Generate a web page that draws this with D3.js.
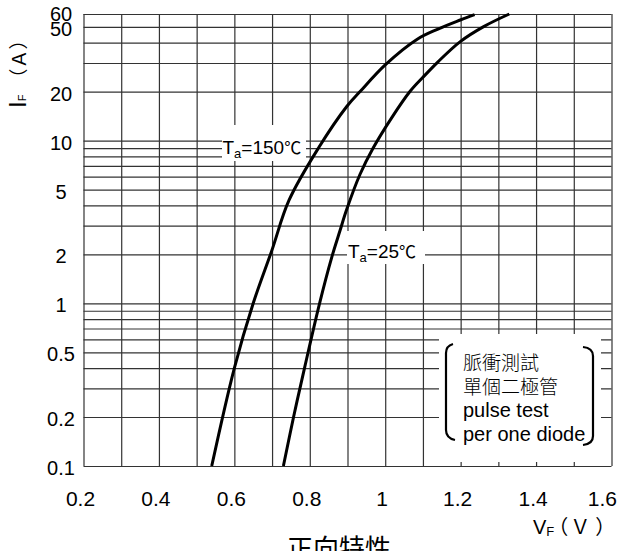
<!DOCTYPE html>
<meta charset="utf-8">
<style>
body { margin: 0; background: #fff; }
svg { display: block; background: #fff; }
.grid line { stroke: #333; stroke-width: 1.2px; }
.grid path { display: none; }
.lat { font-family: "Liberation Sans", Arial, sans-serif; fill: #000; }
.cjk { font-family: "Noto Sans CJK TC", "Noto Sans CJK SC", sans-serif; fill: #000; }
.curve { fill: none; stroke: #000; stroke-width: 3px; }
</style>
<body>
<svg width="620" height="551"></svg>
<script src="https://cdn.jsdelivr.net/npm/d3@7"></script>
<script>

// forward characteristic
var vf150 = [0.540, 0.600, 0.650, 0.699, 0.745, 0.823, 0.898, 0.934, 1.000, 1.085, 1.140, 1.199, 1.237];
var if150 = [0.1, 0.4, 1.0, 2.1, 4.3, 9.0, 16.2, 20.1, 29.2, 42.0, 48.5, 55.1, 59.5];

var vf25 = [0.730, 0.757, 0.786, 0.826, 0.858, 0.880, 0.898, 0.933, 0.968, 1.017, 1.066, 1.100, 1.140, 1.199, 1.261, 1.329];
var if25 = [0.1, 0.2, 0.4, 1.0, 1.91, 2.79, 3.78, 6.19, 9.0, 13.8, 20.1, 24.5, 30.5, 40.6, 50.2, 60];

var xTicks = [0.2, 0.4, 0.6, 0.8, 1, 1.2, 1.4, 1.6];
var xTickLabels = ["0.2", "0.4", "0.6", "0.8", "1", "1.2", "1.4", "1.6"];
var yTicks = [0.1, 0.2, 0.5, 1, 2, 5, 10, 20, 50, 60];
var yTickLabels = ["0.1", "0.2", "0.5", "1", "2", "5", "10", "20", "50", "60"];
var yGrid = [0.1, 0.2, 0.3, 0.4, 0.5, 0.6, 0.7, 0.8, 0.9, 1, 2, 3, 4, 5, 6, 7, 8, 9, 10, 20, 30, 40, 50, 60];
var xGrid = d3.range(2, 17).map(function(d) { return d / 10; });

var svg = d3.select("svg");
var plotLeft = 83.5, plotRight = 611.5, plotTop = 14, plotBottom = 466;

var x = d3.scaleLinear().domain([0.2, 1.6]).range([plotLeft, plotRight]);
var y = d3.scaleLog().domain([0.1, 60]).range([plotBottom, plotTop]);

// grid (frame included)
svg.append("g")
	.attr("class", "grid")
	.attr("transform", "translate(" + plotLeft + ",0)")
	.call(d3.axisLeft(y).tickValues(yGrid).tickSize(-(plotRight - plotLeft)).tickFormat(""));

svg.append("g")
	.attr("class", "grid")
	.attr("transform", "translate(0," + plotBottom + ")")
	.call(d3.axisBottom(x).tickValues(xGrid).tickSize(-(plotBottom - plotTop)).tickFormat(""));

// white patches behind the labels
svg.append("rect").attr("x", 222).attr("y", 125).attr("width", 84).attr("height", 36).attr("fill", "#fff");
svg.append("rect").attr("x", 347).attr("y", 231).attr("width", 78).attr("height", 33).attr("fill", "#fff");
svg.append("rect").attr("x", 439).attr("y", 334).attr("width", 162).attr("height", 128).attr("fill", "#fff");

// curves
var line = d3.line()
	.x(function(d) { return x(d[0]); })
	.y(function(d) { return y(d[1]); })
	.curve(d3.curveCatmullRom.alpha(0.5));

svg.append("path").attr("class", "curve").attr("d", line(d3.zip(vf150, if150)));
svg.append("path").attr("class", "curve").attr("d", line(d3.zip(vf25, if25)));

// tick labels
var yTop = yTicks[yTicks.length - 1];
svg.selectAll(".ylab")
	.data(yTicks)
	.enter().append("text")
	.attr("class", "lat ylab")
	.attr("x", 61)
	.attr("y", function(d) { return d === yTop ? y(d) : y(d) + 2; })
	.attr("dominant-baseline", "central")
	.attr("text-anchor", "middle")
	.style("font-size", "20px")
	.text(function(d, i) { return yTickLabels[i]; });

svg.selectAll(".xlab")
	.data(xTicks)
	.enter().append("text")
	.attr("class", "lat xlab")
	.attr("x", function(d, i) { return i == xTicks.length - 1 ? 617 : x(d) - 3; })
	.attr("y", 506)
	.attr("text-anchor", function(d, i) { return i == xTicks.length - 1 ? "end" : "middle"; })
	.style("font-size", "21px")
	.text(function(d, i) { return xTickLabels[i]; });

// curve labels
function tempLabel(px, py, value) {
	var t = svg.append("text").attr("class", "lat").attr("x", px).attr("y", py).style("font-size", "19px");
	t.append("tspan").text("T");
	t.append("tspan").attr("dy", 4).style("font-size", "13px").text("a");
	t.append("tspan").attr("dy", -4).text("=" + value);
	t.append("tspan").attr("class", "cjk").style("font-size", "17px").text("℃");
}
tempLabel(222.5, 153.5, "150");
tempLabel(348, 257.5, "25");

// axis titles
var yt = svg.append("text").attr("class", "lat").attr("transform", "translate(26,108) rotate(-90)");
yt.append("tspan").style("font-size", "24px").text("I");
yt.append("tspan").style("font-size", "11px").text("F");
yt.append("tspan").attr("class", "cjk").attr("dx", 7).style("font-size", "19px").text("（Ａ）");

var xt = svg.append("text").attr("class", "lat").attr("x", 533).attr("y", 534);
xt.append("tspan").style("font-size", "20px").text("V");
xt.append("tspan").attr("dy", 2).style("font-size", "13px").text("F");
xt.append("tspan").attr("class", "cjk").attr("dy", -2).attr("dx", -6).style("font-size", "20px").text("（");
xt.append("tspan").attr("class", "cjk").attr("dx", 2).style("font-size", "20px").text("Ｖ");
xt.append("tspan").attr("class", "cjk").attr("dx", 5).style("font-size", "20px").text("）");

svg.append("text").attr("class", "cjk").attr("x", 287).attr("y", 558).style("font-size", "26px").text("正向特性");

// test condition note with bracket
var note = ["脈衝測試", "單個二極管", "pulse test", "per one diode"];
var noteY = [370, 394, 417, 441];
svg.selectAll(".note")
	.data(note)
	.enter().append("text")
	.attr("class", function(d, i) { return i < 2 ? "cjk note" : "lat note"; })
	.attr("x", 463)
	.attr("y", function(d, i) { return noteY[i]; })
	.style("font-size", function(d, i) { return i < 2 ? "19px" : "20px"; })
	.style("font-weight", function(d, i) { return i < 2 ? 300 : 400; })
	.text(function(d) { return d; });

svg.append("path")
	.attr("d", "M453,344 Q446,346 446,353 L446,430 Q446,438 455,440")
	.attr("fill", "none").attr("stroke", "#000").attr("stroke-width", 2.2);
svg.append("path")
	.attr("d", "M583,347 Q593,348 593,356 L593,436 Q593,444 583,445")
	.attr("fill", "none").attr("stroke", "#000").attr("stroke-width", 2.2);

</script>
</body>
